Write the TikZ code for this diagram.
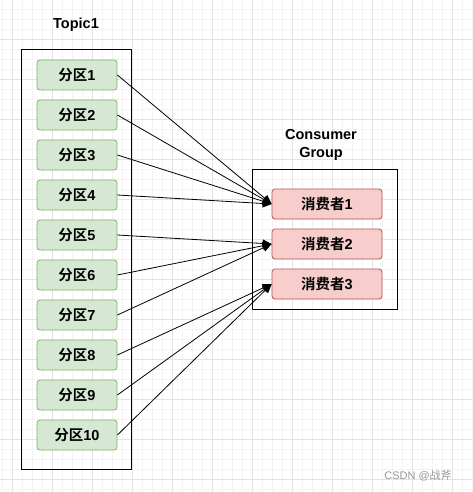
\documentclass[tikz,border=0pt]{standalone}
\usepackage{fontspec}
\setmainfont{Liberation Sans}
\newfontfamily\cjk{Noto Sans CJK SC}[BoldFont={Noto Sans CJK SC Bold}]
\usetikzlibrary{arrows.meta}
\definecolor{partfill}{HTML}{D5E8D4}
\definecolor{partline}{HTML}{82B366}
\definecolor{consfill}{HTML}{F8CECC}
\definecolor{consline}{HTML}{B85450}
\definecolor{gridminor}{HTML}{F3F3F3}
\definecolor{gridmajor}{HTML}{E3E3E3}
\begin{document}
\begin{tikzpicture}[x=1pt,y=-1pt,
  partbox/.style={draw=partline, fill=partfill, rounded corners=3pt, minimum width=80pt, minimum height=30pt, inner sep=0pt, line width=0.8pt, font=\bfseries\fontsize{14.5}{16}\selectfont},
  consbox/.style={draw=consline, fill=consfill, rounded corners=3pt, minimum width=110pt, minimum height=30pt, inner sep=0pt, line width=0.8pt, font=\bfseries\fontsize{14.5}{16}\selectfont},
  framebox/.style={draw=black, line width=0.9pt, inner sep=0pt},
  titletext/.style={font=\bfseries\fontsize{14.5}{18}\selectfont, align=center},
  link/.style={-{Triangle[length=9pt,width=8pt]}, line width=0.8pt}
]
\useasboundingbox (0,0) rectangle (472,492);
\fill[white] (0,0) rectangle (472,492);
% grid
\foreach \x in {2,12,...,472} \draw[gridminor, line width=0.6pt] (\x,0) -- (\x,492);
\foreach \y in {9.5,19.5,...,492} \draw[gridminor, line width=0.6pt] (0,\y) -- (472,\y);
\foreach \x in {12,52,...,472} \draw[gridmajor, line width=0.8pt] (\x,0) -- (\x,492);
\foreach \y in {39.5,79.5,...,492} \draw[gridmajor, line width=0.8pt] (0,\y) -- (472,\y);

% frames
\node[framebox, minimum width=110pt, minimum height=420pt] (topic) at (76,259) {};
\node[framebox, minimum width=145pt, minimum height=140pt] (group) at (324.5,239) {};
\node[titletext] (topiclabel) at (76,25) {Topic1};
\node[titletext] (grouplabel) at (321,145) {Consumer\\Group};

% partitions
\foreach \i in {1,...,10} {
  \node[partbox] (p\i) at (77,{75+40*(\i-1)}) {{\cjk 分区}\i};
}
% consumers
\foreach \j in {1,2,3} {
  \node[consbox] (c\j) at (327,{204+40*(\j-1)}) {{\cjk 消费者}\j};
}

% links
\foreach \i in {1,2,3,4} \draw[link] (p\i.east) -- (c1.west);
\foreach \i in {5,6,7} \draw[link] (p\i.east) -- (c2.west);
\foreach \i in {8,9,10} \draw[link] (p\i.east) -- (c3.west);

\node[text=gray!80, font=\fontsize{11}{13}\selectfont] (mark) at (418,476) {CSDN @{\cjk 战斧}};
\end{tikzpicture}
\end{document}
